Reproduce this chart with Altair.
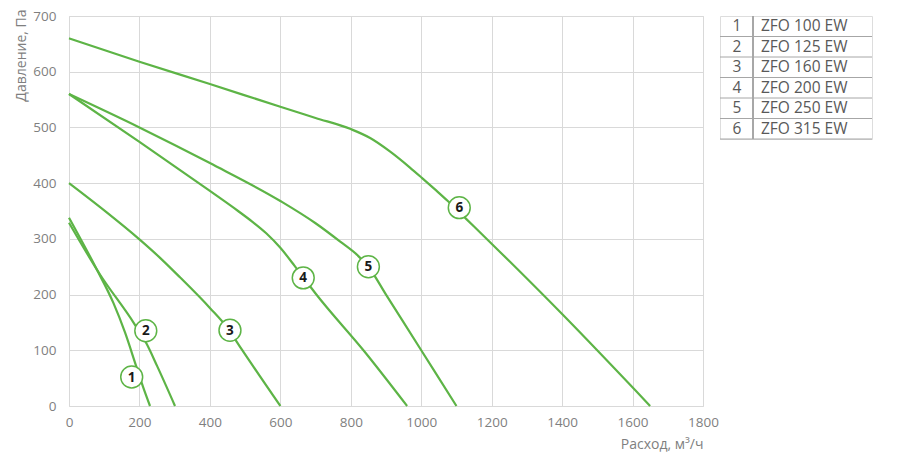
import altair as alt
import pandas as pd

GREEN = "#5DB446"

# Curve data (flow m3/h, pressure Pa)
c1_x = [0, 79, 126, 159, 190, 211, 230]
c1_y = [338, 245, 185, 132, 73, 33, 0]
c2_x = [0, 88, 185, 220, 250, 301]
c2_y = [329, 236, 148, 112, 72, 0]
c3_x = [0, 100, 200, 260, 315, 400, 450, 490, 600]
c3_y = [400, 351, 299, 265, 231, 176, 140, 102, 0]
c4_x = [0, 200, 400, 480, 520, 560, 600, 640, 665, 700, 840, 960]
c4_y = [560, 474, 386, 350, 331, 310, 284, 252, 231, 202, 97, 0]
c5_x = [0, 200, 400, 600, 700, 770, 820, 850, 900, 1000, 1100]
c5_y = [560, 500, 436, 368, 328, 295, 270, 250, 200, 100, 0]
c6_x = [0, 200, 400, 600, 700, 800, 855, 911, 968, 1001, 1044, 1077, 1129, 1202, 1400, 1650]
c6_y = [660, 618, 578, 537, 517, 497, 481, 457, 428, 410, 386, 367, 335, 290, 165, 0]

# Curve labels (position of numbered circles)
lab_id = ["1", "2", "3", "4", "5", "6"]
lab_x = [178, 218, 457, 665, 850, 1108]
lab_y = [52, 135, 136, 230, 250, 356]

# Legend table
tbl_num = ["1", "2", "3", "4", "5", "6"]
tbl_name = ["ZFO 100 EW", "ZFO 125 EW", "ZFO 160 EW", "ZFO 200 EW", "ZFO 250 EW", "ZFO 315 EW"]

x_ticks = [0, 200, 400, 600, 800, 1000, 1200, 1400, 1600, 1800]
y_ticks = [0, 100, 200, 300, 400, 500, 600, 700]

rows = []
for cid, xs_, ys_ in [("1", c1_x, c1_y), ("2", c2_x, c2_y), ("3", c3_x, c3_y),
                      ("4", c4_x, c4_y), ("5", c5_x, c5_y), ("6", c6_x, c6_y)]:
    for i, (a, b) in enumerate(zip(xs_, ys_)):
        rows.append({"curve": cid, "q": a, "p": b, "o": i})
curves = pd.DataFrame(rows)
labels = pd.DataFrame({"id": lab_id, "q": lab_x, "p": lab_y})

FONT = "Open Sans"
W, H = 634, 390
LBL = 13.5
TTL = 14

xs = alt.Scale(domain=[0, 1800], nice=False)
ys = alt.Scale(domain=[0, 700], nice=False)

x_axis = alt.Axis(values=x_ticks, format="d", title="Расход, м³/ч", grid=True, domain=False, ticks=False,
                  labelFlush=False, labelPadding=9, labelColor="#7f7f7f", labelFont=FONT, labelFontSize=LBL,
                  titleColor="#7f7f7f", titleFont=FONT, titleFontSize=TTL, titleFontWeight="normal",
                  titleX=W, titleY=38, titleAlign="right", titleBaseline="middle",
                  gridColor="#d9d9d9", gridWidth=1)
y_axis = alt.Axis(values=y_ticks, format="d", title="Давление, Па", grid=True, domain=False, ticks=False,
                  labelFlush=False, labelPadding=13, labelColor="#7f7f7f", labelFont=FONT, labelFontSize=LBL,
                  titleColor="#7f7f7f", titleFont=FONT, titleFontSize=TTL, titleFontWeight="normal",
                  titleX=-48, titleY=-7, titleAlign="right", titleBaseline="middle", titleAngle=-90,
                  gridColor="#d9d9d9", gridWidth=1)

lines = alt.Chart(curves).mark_line(color=GREEN, strokeWidth=2.2, interpolate="monotone").encode(
    x=alt.X("q:Q", scale=xs, axis=x_axis),
    y=alt.Y("p:Q", scale=ys, axis=y_axis),
    detail="curve:N",
    order="o:Q",
)

circles = alt.Chart(labels).mark_point(shape="circle", filled=True, fill="white", stroke=GREEN,
                                       strokeWidth=1.5, size=480, opacity=1).encode(
    x=alt.X("q:Q", scale=xs), y=alt.Y("p:Q", scale=ys))

texts = alt.Chart(labels).mark_text(font=FONT, fontSize=13.5, fontWeight="bold", color="#1a1a1a",
                                    baseline="middle", align="center", dy=0.5).encode(
    x=alt.X("q:Q", scale=xs), y=alt.Y("p:Q", scale=ys), text="id:N")

main = alt.layer(lines, circles, texts).properties(width=W, height=H)

# Table
TW, TH = 152, 123
tbl = pd.DataFrame({"num": tbl_num, "name": tbl_name, "row": list(range(1, 7))})
tbl["mid"] = tbl["row"] - 0.5
ty = alt.Scale(domain=[0, 6], reverse=True, nice=False)

t_num = alt.Chart(tbl).mark_text(font=FONT, fontSize=15.5, color="#595959", align="center",
                                 baseline="middle").encode(
    x=alt.value(17), y=alt.Y("mid:Q", scale=ty, axis=None), text="num:N")
t_name = alt.Chart(tbl).mark_text(font=FONT, fontSize=15.5, color="#595959", align="left",
                                  baseline="middle").encode(
    x=alt.value(41), y=alt.Y("mid:Q", scale=ty, axis=None), text="name:N")
t_hr = alt.Chart(tbl).mark_rule(color="#a6a6a6", strokeWidth=1).encode(
    x=alt.value(0), x2=alt.value(TW), y=alt.Y("row:Q", scale=ty, axis=None))
t_vr = alt.Chart(tbl).mark_rule(color="#a6a6a6", strokeWidth=1).encode(
    x=alt.value(33), y=alt.value(0), y2=alt.value(TH))

table = alt.layer(t_hr, t_vr, t_num, t_name).properties(width=TW, height=TH)

chart = alt.hconcat(main, table, spacing=17, bounds="flush").properties(
    padding={"left": 5, "top": 0, "right": 5, "bottom": 5}
).configure_view(stroke=None).configure(background="white")

chart.save("out.html", embed_options={"renderer": "svg", "actions": False})
